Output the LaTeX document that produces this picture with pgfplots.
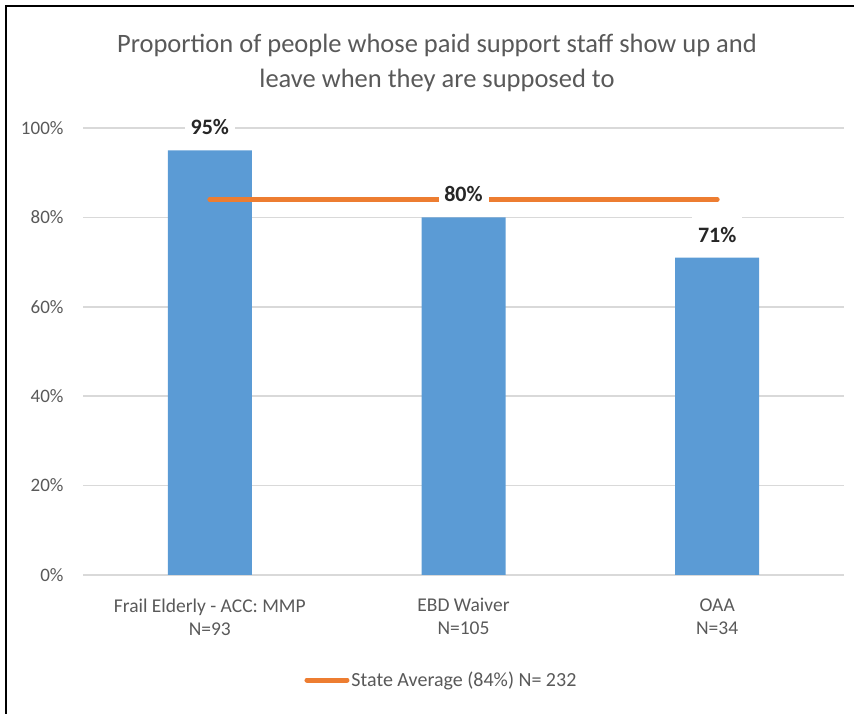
\documentclass[border=0pt]{standalone}
\usepackage{pgfplots}
\pgfplotsset{compat=1.18}
\usepackage{fontspec}
\setmainfont{Carlito}
\pgfkeys{/pgf/number format/assume math mode=true}
\definecolor{barblue}{HTML}{5B9BD5}
\definecolor{avgorange}{HTML}{ED7D31}
\definecolor{txtgray}{HTML}{595959}
\definecolor{gridgray}{HTML}{D9D9D9}
\begin{document}
\begin{tikzpicture}[x=1pt,y=1pt]
\useasboundingbox (0,0) rectangle (854,714);
\draw[line width=2.5pt] (6,-20) -- (6,708) -- (870,708);
\node[align=center, text=txtgray, font=\fontsize{26.5}{35}\selectfont] at (437,651.5)
  {Proportion of people whose paid support staff show up and\\leave when they are supposed to};
\begin{axis}[
  at={(83pt,139pt)}, anchor=south west,
  scale only axis, width=761pt, height=447pt,
  xmin=-0.5, xmax=2.5, ymin=0, ymax=100,
  axis line style={draw=none},
  ytick={0,20,40,60,80,100},
  yticklabel={\pgfmathprintnumber[assume math mode=true]{\tick}\%},
  ymajorgrids, grid style={color=gridgray, line width=1.5pt},
  major tick style={draw=none},
  xtick={0,1,2},
  xticklabels={{Frail Elderly - ACC: MMP\\N=93},{EBD Waiver\\N=105},{OAA\\N=34}},
  xticklabel style={align=center, text=txtgray, font=\fontsize{19.5}{23}\selectfont, yshift=-20pt},
  yticklabel style={text=txtgray, font=\fontsize{19}{23}\selectfont, xshift=-16pt},
  legend style={draw=none, at={(0.471,-0.235)}, anchor=center, font=\fontsize{20}{23}\selectfont, text=txtgray},
  legend image code/.code={\draw[#1, line width=5pt, line cap=round] (0pt,0pt) -- (40pt,0pt);},
  clip=false,
]
\addplot[ybar, bar width=84pt, fill=barblue, draw=none, forget plot] coordinates {(0,95) (1,80) (2,71)};
\addplot[avgorange, line width=5pt, line cap=round] coordinates {(0,84) (2,84)};
\addlegendentry{State Average (84\%) N= 232}
\addplot[draw=none, mark=none, forget plot,
  nodes near coords={\pgfmathprintnumber[assume math mode=true]{\pgfplotspointmeta}\%},
  point meta=explicit,
  every node near coord/.append style={anchor=center, yshift=23pt, fill=white, inner sep=0pt,
    minimum width=50pt, minimum height=40pt, text=black!85, font=\bfseries\fontsize{22}{23}\selectfont}]
  coordinates {(0,95) [95] (1,80) [80] (2,71) [71]};
\end{axis}
\end{tikzpicture}
\end{document}
